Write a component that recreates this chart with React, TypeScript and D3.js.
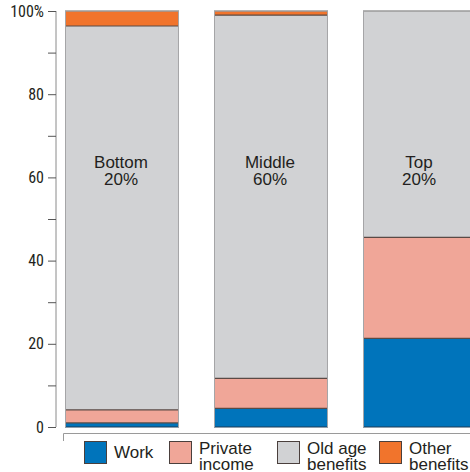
import { useEffect, useRef } from 'react';
import * as d3 from 'd3';

const groups = ['Bottom', 'Middle', 'Top'];
const groupShares = ['20%', '60%', '20%'];
const seriesNames = ['Work', 'Private income', 'Old age benefits', 'Other benefits'];
const legendLines = [['Work'], ['Private', 'income'], ['Old age', 'benefits'], ['Other', 'benefits']];
const work = [1.0, 4.5, 21.3];
const privateIncome = [3.1, 7.2, 24.3];
const oldAge = [92.3, 87.3, 54.4];
const otherBenefits = [3.6, 1.0, 0];
const ticks = [0, 10, 20, 30, 40, 50, 60, 70, 80, 90, 100];
const tickLabels: Record<number, string> = { 0: '0', 20: '20', 40: '40', 60: '60', 80: '80', 100: '100%' };

const colors = ['#0074bb', '#f0a698', '#d1d2d4', '#f1742c'];

export default function App() {
  const svgRef = useRef<SVGSVGElement>(null);

  useEffect(() => {
    if (!svgRef.current) return;
    const svg = d3.select(svgRef.current);
    svg.selectAll('*').remove();

    const y = d3.scaleLinear().domain([0, 100]).range([427, 11]);
    const x = d3.scaleBand().domain(groups).range([65, 477]).paddingInner(0.235).paddingOuter(0);

    const rows = groups.map((g, i) => ({
      group: g,
      Work: work[i],
      'Private income': privateIncome[i],
      'Old age benefits': oldAge[i],
      'Other benefits': otherBenefits[i],
    }));
    const stacked = d3.stack<any>().keys(seriesNames)(rows);

    // axis
    const axis = svg.append('g');
    axis.append('line')
      .attr('x1', 56).attr('x2', 56).attr('y1', y(100)).attr('y2', y(0))
      .attr('stroke', '#8a8a8a').attr('stroke-width', 1);
    axis.selectAll('.tick').data(ticks).enter().append('line')
      .attr('x1', 48).attr('x2', 56)
      .attr('y1', (d) => y(d) + 0.5).attr('y2', (d) => y(d) + 0.5)
      .attr('stroke', '#555').attr('stroke-width', 1);
    axis.selectAll('.lbl').data(ticks.filter((t) => tickLabels[t] !== undefined)).enter().append('text')
      .attr('x', 44).attr('y', (d) => y(d) + 5.5)
      .attr('text-anchor', 'end')
      .attr('font-family', '"Liberation Sans Narrow", "Roboto Condensed", sans-serif')
      .attr('font-size', 16)
      .attr('fill', '#231f20')
      .text((d) => tickLabels[d]);

    // bars
    stacked.forEach((layer, si) => {
      svg.append('g').selectAll('rect').data(layer).enter().append('rect')
        .attr('x', (d: any) => x(d.data.group)!)
        .attr('width', x.bandwidth())
        .attr('y', (d: any) => y(d[1]))
        .attr('height', (d: any) => Math.max(0, y(d[0]) - y(d[1])))
        .attr('fill', colors[si]);
    });

    // segment separators
    stacked.forEach((layer) => {
      svg.append('g').selectAll('line').data(layer.filter((d: any) => d[1] - d[0] > 0)).enter().append('line')
        .attr('x1', (d: any) => x(d.data.group)!)
        .attr('x2', (d: any) => x(d.data.group)! + x.bandwidth())
        .attr('y1', (d: any) => y(d[1]))
        .attr('y2', (d: any) => y(d[1]))
        .attr('stroke', (d: any) => (d[1] >= 99.99 ? '#9a9a9a' : '#5a4a45'))
        .attr('stroke-width', (d: any) => (d[1] >= 99.99 ? 1.5 : 1.2));
    });
    // bar bottoms
    svg.append('g').selectAll('line').data(groups).enter().append('line')
      .attr('x1', (g) => x(g)!).attr('x2', (g) => x(g)! + x.bandwidth())
      .attr('y1', y(0)).attr('y2', y(0))
      .attr('stroke', '#1f3a55').attr('stroke-width', 1.2);
    // bar side outlines
    svg.append('g').selectAll('path').data(groups).enter().append('path')
      .attr('d', (g) => {
        const x0 = x(g)! + 0.5;
        const x1 = x(g)! + x.bandwidth() - 0.5;
        return `M${x0},${y(0)}V${y(100)}M${x1},${y(0)}V${y(100)}`;
      })
      .attr('fill', 'none')
      .attr('stroke', '#a5a5a7').attr('stroke-width', 1);

    // group labels
    const lab = svg.append('g').selectAll('text').data(groups).enter().append('text')
      .attr('text-anchor', 'middle')
      .attr('font-family', '"Liberation Sans", Arial, sans-serif')
      .attr('font-size', 17)
      .attr('fill', '#231f20');
    lab.append('tspan')
      .attr('x', (g) => x(g)! + x.bandwidth() / 2 - 1).attr('y', 168)
      .text((g) => g);
    lab.append('tspan')
      .attr('x', (g) => x(g)! + x.bandwidth() / 2 - 1).attr('y', 185)
      .text((g, i) => groupShares[i]);

    // legend frame line
    svg.append('path')
      .attr('d', 'M63.5,441V433.5H470')
      .attr('fill', 'none').attr('stroke', '#9a9a9a').attr('stroke-width', 1);

    const legendX = [84, 169, 277, 379];
    const leg = svg.append('g').selectAll('g').data(seriesNames).enter().append('g')
      .attr('transform', (d, i) => `translate(${legendX[i]},441)`);
    leg.append('rect')
      .attr('x', 0.5).attr('y', 0.5).attr('width', 22).attr('height', 22)
      .attr('fill', (d, i) => colors[i])
      .attr('stroke', '#4a3f3c').attr('stroke-width', 1);
    leg.each(function (d, i) {
      const lines = legendLines[i];
      const t = d3.select(this).append('text')
        .attr('font-family', '"Liberation Sans", Arial, sans-serif')
        .attr('font-size', 17)
        .attr('fill', '#231f20');
      lines.forEach((ln, j) => {
        t.append('tspan')
          .attr('x', 30)
          .attr('y', lines.length === 1 ? 17 : 13 + j * 16)
          .text(ln);
      });
    });
  }, []);

  return (
    <svg ref={svgRef} width={470} height={472} style={{ position: 'absolute', left: 0, top: 0, background: '#fff' }} />
  );
}
